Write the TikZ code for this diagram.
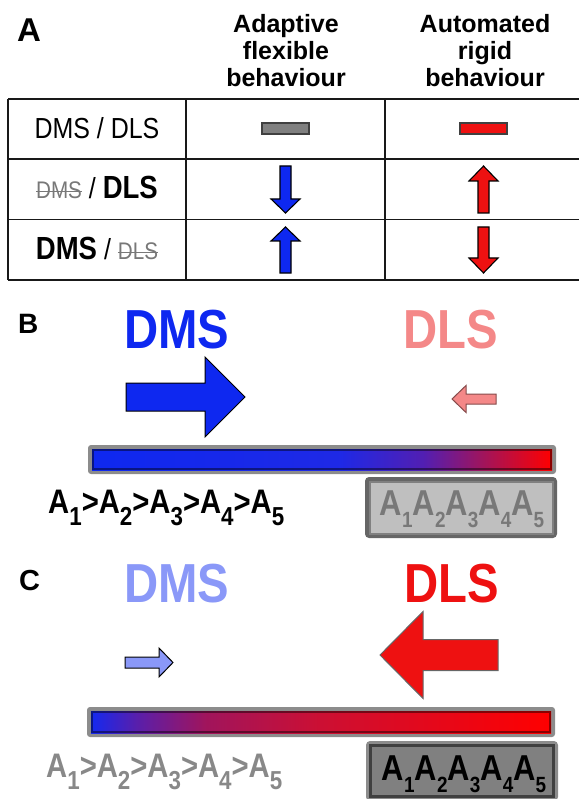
\documentclass[tikz,border=0pt]{standalone}
\usepackage{fontspec}
\setmainfont{Liberation Sans}
\newfontfamily\narrow[FakeStretch=0.86]{Liberation Sans}
\newlength\stkw
\newcommand\strk[1]{\settowidth{\stkw}{#1}\rlap{\rule[0.29em]{\stkw}{1.2pt}}#1}
\definecolor{blueM}{RGB}{14,40,240}
\definecolor{redM}{RGB}{238,17,17}
\definecolor{pinkM}{RGB}{244,136,136}
\definecolor{lblueM}{RGB}{138,152,248}
\definecolor{grayT}{RGB}{120,120,120}
\definecolor{grayL}{RGB}{136,136,136}
\definecolor{rimG}{RGB}{140,140,140}
\pgfdeclarehorizontalshading{gradB}{100bp}{rgb(0bp)=(0.055,0.157,0.94); rgb(25bp)=(0.055,0.157,0.94); rgb(52bp)=(0.12,0.16,0.90); rgb(61bp)=(0.32,0.12,0.70); rgb(67.5bp)=(0.63,0.08,0.36); rgb(75bp)=(1,0,0); rgb(100bp)=(1,0,0)}
\pgfdeclarehorizontalshading{gradC}{100bp}{rgb(0bp)=(0.08,0.16,0.94); rgb(25bp)=(0.08,0.16,0.94); rgb(30bp)=(0.35,0.12,0.67); rgb(37.5bp)=(0.63,0.08,0.36); rgb(50bp)=(0.80,0.06,0.20); rgb(75bp)=(1,0,0); rgb(100bp)=(1,0,0)}
\newcommand\sbs[1]{\raisebox{-12pt}{\fontsize{26}{26}\selectfont #1}}
\newcommand\sbb[1]{\raisebox{-12pt}{\fontsize{22}{22}\selectfont #1}}
% vertical arrow: cx, y tail, y tip, y head base, fill
\newcommand\vArr[5]{\draw[arrline,fill=#5] (#1-5.5,#2) -- (#1+5.5,#2) -- (#1+5.5,#4) -- (#1+14.5,#4) -- (#1,#3) -- (#1-14.5,#4) -- (#1-5.5,#4) -- cycle;}
% horizontal arrow: x tail, x tip, x head base, cy, shaft half, head half, fill, draw
\newcommand\hArr[8]{\draw[line width=1pt,line join=miter,fill=#7,draw=#8] (#1,#4-#5) -- (#3,#4-#5) -- (#3,#4-#6) -- (#2,#4) -- (#3,#4+#6) -- (#3,#4+#5) -- (#1,#4+#5) -- cycle;}
\tikzset{
  arrline/.style={draw=black,line width=1.1pt,line join=miter},
  tline/.style={line width=1.8pt,draw=black!90},
  lab/.style={inner sep=0pt,anchor=base west,font=\bfseries},
  hdr/.style={inner sep=0pt,anchor=north,align=center,font=\bfseries\fontsize{25}{27}\selectfont},
  rowtxt/.style={inner sep=0pt,anchor=base,font=\narrow\fontsize{29}{29}\selectfont},
  big/.style={inner sep=0pt,anchor=base,font=\narrow\bfseries\fontsize{55}{55}\selectfont},
  seq/.style={inner sep=0pt,anchor=base west,font=\narrow\bfseries\fontsize{34}{34}\selectfont},
  boxtxt/.style={inner sep=0pt,anchor=base,font=\narrow\bfseries\fontsize{36}{36}\selectfont},
}
\begin{document}
\begin{tikzpicture}[x=1pt,y=-1pt]
\useasboundingbox (0,0) rectangle (578,799);
% ---------- Panel A ----------
\node[lab,font=\bfseries\fontsize{33}{33}\selectfont] (labA) at (17,42) {A};
\node[hdr] (hAdapt) at (286,14) {Adaptive\\flexible\\behaviour};
\node[hdr] (hAuto) at (485,14) {Automated\\rigid\\behaviour};
% table
\draw[tline] (8,99) -- (580,99);
\draw[tline] (8,159) -- (580,159);
\draw[tline] (8,219.5) -- (580,219.5);
\draw[tline] (8,280) -- (580,280);
\draw[tline] (8,99) -- (8,280);
\draw[tline] (186,99) -- (186,280);
\draw[tline] (385,99) -- (385,280);
% row labels
\node[rowtxt] (r1) at (97,139) {DMS / DLS};
\node[rowtxt] (r2) at (97,199) {{\fontsize{24}{24}\selectfont\color{grayT}\strk{DMS}} / {\bfseries\fontsize{32}{32}\selectfont DLS}};
\node[rowtxt] (r3) at (97,260) {{\bfseries\fontsize{32}{32}\selectfont DMS} / {\fontsize{24}{24}\selectfont\color{grayT}\strk{DLS}}};
% row 1 bars
\draw[line width=1.1pt,draw=black!75,fill=black!50] (262,123) rectangle (309,134);
\draw[line width=1.1pt,draw=black!75,fill=redM] (460,123) rectangle (507,134);
% row 2/3 arrows
\vArr{285.5}{166}{213}{199}{blueM}
\vArr{285.5}{273}{227}{241}{blueM}
\vArr{483.5}{213}{166}{181}{redM}
\vArr{483.5}{227}{273}{258}{redM}
% ---------- Panel B ----------
\node[lab,font=\bfseries\fontsize{28}{28}\selectfont] (labB) at (18,333) {B};
\node[big,text=blueM] (dmsB) at (177,348) {DMS};
\node[big,text=pinkM] (dlsB) at (451,348) {DLS};
\hArr{126}{245}{205}{397}{14}{40}{blueM}{black}
\hArr{496}{452}{466}{399}{5}{13.5}{pinkM}{black!45!pinkM}
\fill[rimG,rounded corners=3pt] (88,445) rectangle (556,474);
\shade[shading=gradB] (92,449) rectangle (552,470);
\draw[black,opacity=0.45,line width=2pt] (93,450) rectangle (551,469);
\node[seq] (seqB) at (48,513) {A\sbs1>A\sbs2>A\sbs3>A\sbs4>A\sbs5};
\fill[black!60,rounded corners=4pt] (365,477) rectangle (557,538);
\draw[black!50,fill=black!25,line width=2pt] (369.5,481.5) rectangle (552.5,533.5);
\node[boxtxt,text=grayT] (boxB) at (462,515) {A\sbb1A\sbb2A\sbb3A\sbb4A\sbb5};
% ---------- Panel C ----------
\node[lab,font=\bfseries\fontsize{29}{29}\selectfont] (labC) at (19,590) {C};
\node[big,text=lblueM] (dmsC) at (177,602) {DMS};
\node[big,text=redM] (dlsC) at (452,602) {DLS};
\hArr{125}{173}{159}{662.5}{5.5}{14.5}{lblueM}{black}
\hArr{498}{380}{423}{655}{15.5}{43.5}{redM}{black!60}
\fill[rimG,rounded corners=3pt] (87,707) rectangle (555,737);
\shade[shading=gradC] (91,711) rectangle (551,733);
\draw[black,opacity=0.45,line width=2pt] (92,712) rectangle (550,732);
\node[seq,text=grayL] (seqC) at (46,777) {A\sbs1>A\sbs2>A\sbs3>A\sbs4>A\sbs5};
\fill[rimG,rounded corners=4pt] (366,741) rectangle (558,801);
\draw[black!75,fill=black!50,line width=2.5pt] (370.5,745.5) rectangle (553.5,796.5);
\node[boxtxt,text=black] (boxC) at (464,780) {A\sbb1A\sbb2A\sbb3A\sbb4A\sbb5};
\end{tikzpicture}
\end{document}
